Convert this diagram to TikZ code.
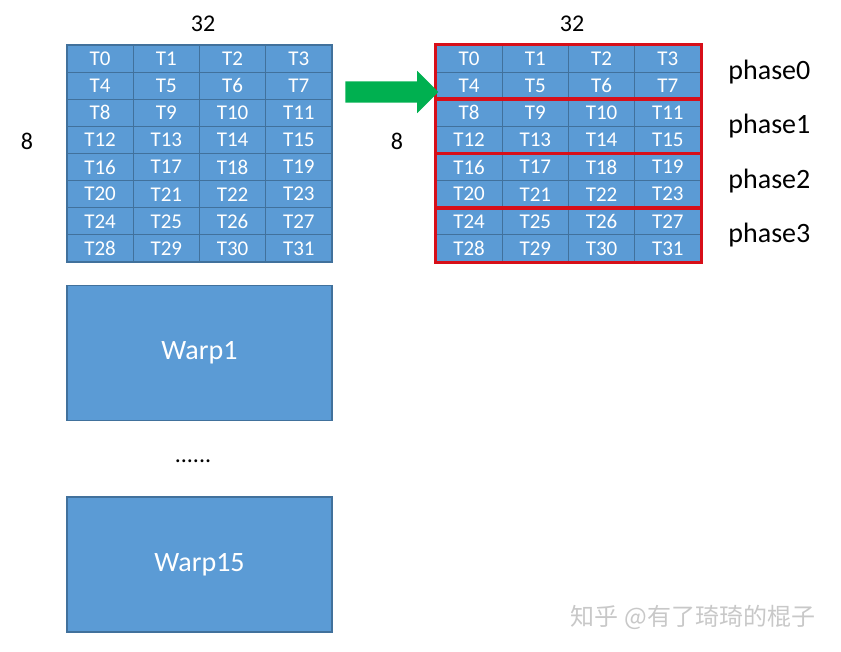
\documentclass[tikz,border=0pt]{standalone}
\usepackage{fontspec}
\setmainfont{Carlito}
\newfontfamily\cjk{Noto Sans CJK SC}
\usetikzlibrary{positioning,fit,shapes.arrows}
\definecolor{cellblue}{RGB}{91,155,213}
\definecolor{cellline}{RGB}{65,113,156}
\definecolor{shiftgreen}{RGB}{0,176,80}
\definecolor{phasered}{RGB}{215,15,25}
\definecolor{markgray}{RGB}{200,200,200}

\begin{document}
\begin{tikzpicture}
	[x=1pt,y=-1pt,
	cell/.style={rectangle,draw=cellline,line width=1.2pt,fill=cellblue,text=white,
		minimum width=66.25pt,minimum height=27.125pt,inner sep=0pt,font=\fontsize{21}{23}\selectfont},
	warpbox/.style={rectangle,draw=cellline,line width=1.2pt,fill=cellblue,text=white,
		minimum width=265pt,minimum height=135pt,font=\fontsize{28}{30}\selectfont},
	dimlbl/.style={font=\fontsize{24}{26}\selectfont},
	phaselbl/.style={font=\fontsize{28}{30}\selectfont,anchor=west},
	phasebox/.style={draw=phasered,line width=2.6pt,inner sep=0pt}]
	\useasboundingbox (0,0) rectangle (841,651);
	% thread grids
	\foreach \r in {0,...,7}
	\foreach \c in {0,...,3}{
		\pgfmathtruncatemacro{\t}{4*\r+\c}
		\node[cell] (L\t) at (67+66.25*\c+33.125, 45+27.125*\r+13.5625) {T\t};
		\node[cell] (R\t) at (436+66.25*\c+33.125, 45+27.125*\r+13.5625) {T\t};
	}
	\node[dimlbl] (w1) at (203,24) {32};
	\node[dimlbl] (h1) at (27,141) {8};
	\node[dimlbl] (w2) at (572,24) {32};
	\node[dimlbl] (h2) at (397,141) {8};
	% phases
	\node[phasebox,fit=(R0)(R7)] (ph0) {};
	\node[phasebox,fit=(R8)(R15)] (ph1) {};
	\node[phasebox,fit=(R16)(R23)] (ph2) {};
	\node[phasebox,fit=(R24)(R31)] (ph3) {};
	\node[phaselbl,right=22pt of ph0] {phase0};
	\node[phaselbl,right=22pt of ph1] {phase1};
	\node[phaselbl,right=22pt of ph2] {phase2};
	\node[phaselbl,right=22pt of ph3] {phase3};
	\node (shift) [single arrow,fill=shiftgreen,draw=none,inner xsep=0pt,inner ysep=10.5pt,
		minimum height=93pt,single arrow head extend=10.5pt] at (386.5,92) {};
	% other warps
	\node[warpbox] (warp1) at (199.5,353) {Warp1};
	\node[dimlbl] (dots) at (193,461) {......};
	\node[warpbox] (warp15) at (199.5,564.5) {Warp15};
	\node (mark) [text=markgray,font=\cjk\fontsize{24}{26}\selectfont] at (693,617) {知乎 @有了琦琦的棍子};
\end{tikzpicture}
\end{document}
